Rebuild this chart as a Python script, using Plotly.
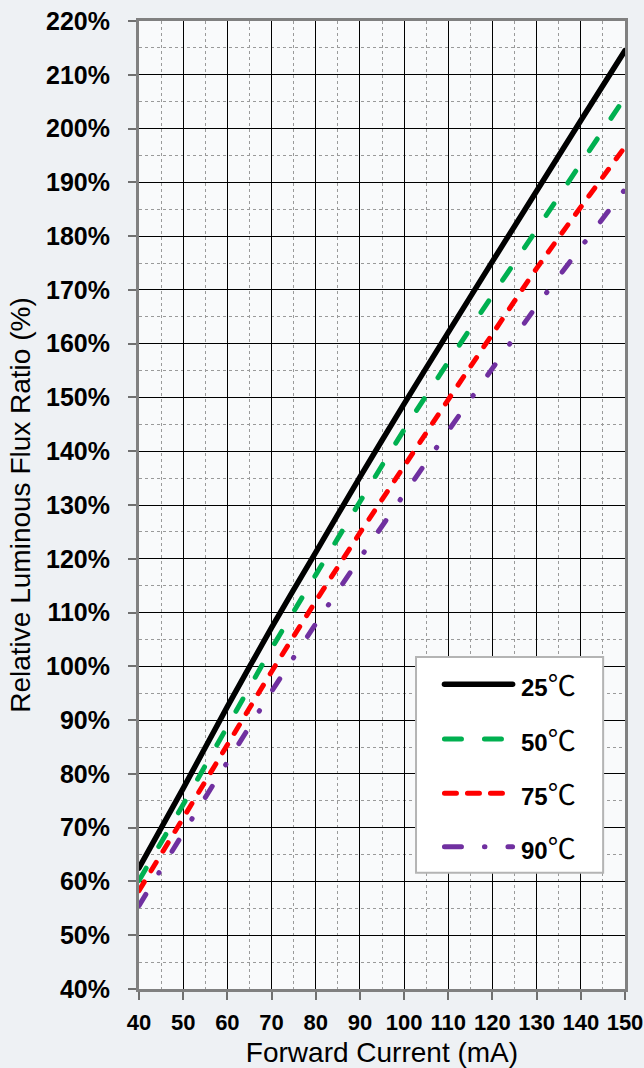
import plotly.graph_objects as go

# Forward current (mA) and relative luminous flux (%) per junction temperature
current_ma = [40, 50, 60, 70, 80, 90, 100, 110, 120, 130, 140, 150]
flux_25c = [62.5, 77.3, 92.5, 107.2, 121.2, 135.2, 148.8, 162.1, 175.3, 188.4, 201.5, 214.5]
flux_50c = [60.2, 74.3, 88.8, 103.3, 117.0, 130.6, 144.0, 156.6, 169.0, 181.2, 193.5, 205.8]
flux_75c = [58.3, 71.8, 85.4, 99.0, 112.1, 124.8, 137.2, 149.6, 161.8, 174.0, 185.4, 196.6]
flux_90c = [55.5, 69.0, 82.2, 95.3, 107.9, 120.1, 132.0, 143.8, 155.4, 167.0, 177.9, 188.7]

series_names = ["25℃", "50℃", "75℃", "90℃"]
series_values = [flux_25c, flux_50c, flux_75c, flux_90c]
series_colors = ["#000000", "#00b050", "#ff0000", "#7030a0"]
# dash arrays assume round line caps (set after rendering)
series_dash = ["solid", "14px,25px", "10px,13px", "13px,25px,0.5px,25px"]
legend_dash = ["solid", "17px,23px", "12px,11px", "17px,23px,0.5px,23px"]
series_width = [5.5, 5, 5, 5]

x_ticks = list(range(40, 151, 10))
y_ticks = list(range(40, 221, 10))

tick_font = dict(family="Liberation Sans, Arial, sans-serif", size=25, color="#000000", weight="bold")
title_font = dict(family="Liberation Sans, Arial, sans-serif", size=28, color="#000000")

fig = go.Figure()
for name, vals, col, dash, w in zip(series_names, series_values, series_colors, series_dash, series_width):
    fig.add_trace(go.Scatter(
        x=current_ma, y=vals, mode="lines", name=name,
        line=dict(color=col, width=w, dash=dash, shape="spline", smoothing=0.6),
        showlegend=False,
    ))

axis_common = dict(
    showline=True, mirror=True, linecolor="#808080", linewidth=3,
    ticks="outside", ticklen=8, tickwidth=2, tickcolor="#707070",
    showgrid=True, gridcolor="#000000", gridwidth=1,
    zeroline=False, automargin=False,
)

fig.update_xaxes(
    range=[40, 150], tickvals=x_ticks, ticktext=[str(v) for v in x_ticks],
    tickfont=dict(tick_font, size=22), ticklabelstandoff=4,
    minor=dict(dtick=5, tick0=40, showgrid=True, gridcolor="#9a9a9a", griddash="dot", gridwidth=1),
    title=dict(text="Forward Current (mA)", font=title_font, standoff=12),
    **axis_common,
)
fig.update_yaxes(
    range=[40, 220], tickvals=y_ticks, ticktext=[f"{v}%" for v in y_ticks],
    tickfont=tick_font, ticklabelstandoff=13,
    minor=dict(dtick=5, tick0=40, showgrid=True, gridcolor="#9a9a9a", griddash="dot", gridwidth=1),
    title=dict(text="Relative Luminous Flux Ratio (%)", font=title_font, standoff=8),
    **axis_common,
)

# Legend box drawn in paper coordinates
shapes = [dict(type="rect", xref="paper", yref="paper", x0=0.570, x1=0.955, y0=0.120, y1=0.343,
               line=dict(color="#b4b4b4", width=2), fillcolor="#ffffff", layer="above")]
row_y = [0.3147, 0.2582, 0.2021, 0.1470]
annotations = []
for name, col, dash, w, yy in zip(series_names, series_colors, legend_dash, series_width, row_y):
    shapes.append(dict(type="line", xref="paper", yref="paper", x0=0.6285, x1=0.7687, y0=yy, y1=yy,
                       line=dict(color=col, width=w, dash=dash), layer="above"))
    annotations.append(dict(
        xref="paper", yref="paper", x=0.782, y=yy, xanchor="left", yanchor="middle",
        text=(f"<span style='font-family:Liberation Sans;font-weight:bold'>{name[:-1]}</span>"
              f"<span style='font-family:Noto Sans CJK SC;font-size:28px'>{name[-1]}</span>"),
        showarrow=False,
        font=dict(family="Liberation Sans, Noto Sans CJK SC, sans-serif", size=24, color="#000000"),
    ))

fig.update_layout(
    width=644, height=1068,
    margin=dict(l=139, r=19, t=21, b=79),
    paper_bgcolor="#eef1f4",
    plot_bgcolor="#f9fafb",
    shapes=shapes,
    annotations=annotations,
    showlegend=False,
)

round_caps = """
document.querySelectorAll('.scatterlayer path.js-line, .shapelayer path').forEach(function (p) {
    p.style.strokeLinecap = 'round';
});
"""

fig.write_html("out.html", post_script=round_caps)
